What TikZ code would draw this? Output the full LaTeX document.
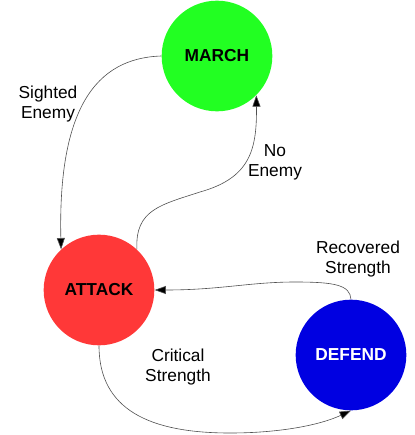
\documentclass[tikz,border=0pt]{standalone}
\usepackage{fontspec}
\setmainfont{Liberation Sans}
\usetikzlibrary{arrows.meta}
\definecolor{marchgreen}{RGB}{34,255,34}
\definecolor{attackred}{RGB}{255,56,56}
\definecolor{defendblue}{RGB}{0,0,225}
\definecolor{edgegray}{RGB}{80,80,80}
\tikzset{
  state/.style={circle, minimum size=83pt, inner sep=0pt, font=\fontsize{13}{15}\selectfont\bfseries},
  trans/.style={draw=edgegray, line width=0.45pt, -{Triangle[length=8.5pt,width=6pt,fill=black]}},
  lab/.style={align=center, font=\fontsize{13}{15}\selectfont, inner sep=0pt}
}
\begin{document}
\begin{tikzpicture}[x=0.75pt,y=-0.75pt]
\useasboundingbox (0,0) rectangle (414,435);
\node[state, fill=marchgreen] (march) at (217,56) {MARCH};
\node[state, fill=attackred] (attack) at (99,290) {ATTACK};
\node[state, fill=defendblue, text=white] (defend) at (351,355) {DEFEND};

\draw[trans] (march.west) .. controls (95,58) and (58,110) .. (attack.133);
\draw[trans] (attack.47) .. controls (135,210) and (160,205) .. (200,192) .. controls (250,178) and (257,150) .. (march.-45);
\draw[trans] (defend.north) .. controls (350,285) and (335,282) .. (295,282) .. controls (250,282) and (220,290) .. (attack.east);
\draw[trans] (attack.south) .. controls (99,410) and (150,433) .. (230,433) .. controls (280,433) and (320,425) .. (defend.south);

\node[lab] (l1) at (48,104) {Sighted\\Enemy};
\node[lab] (l2) at (275,162) {No\\Enemy};
\node[lab] (l3) at (358,259) {Recovered\\Strength};
\node[lab] (l4) at (178,367) {Critical\\Strength};
\end{tikzpicture}
\end{document}
